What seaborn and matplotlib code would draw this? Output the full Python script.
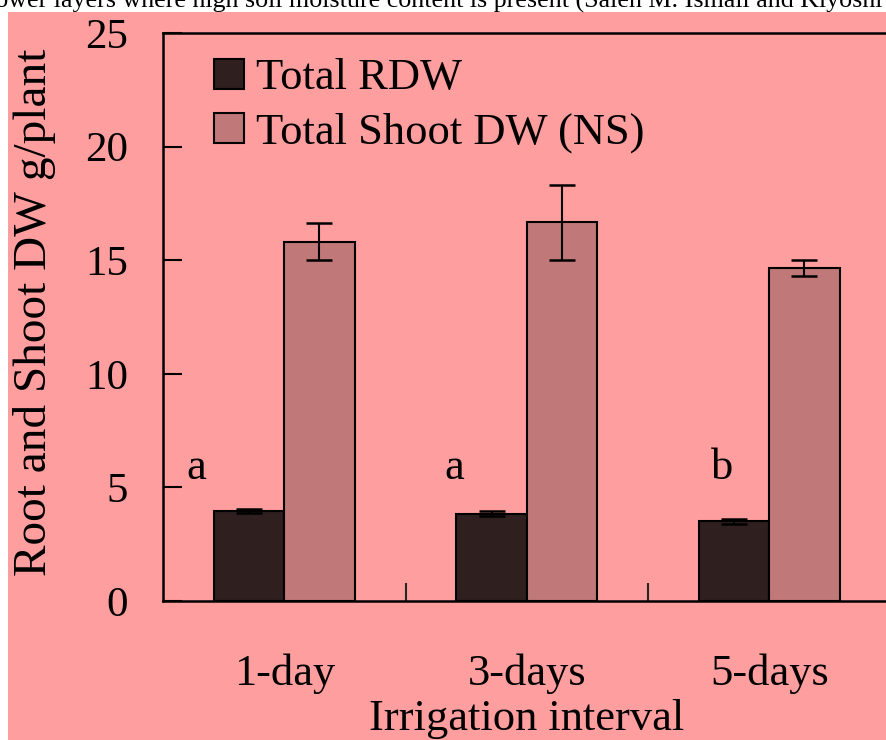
import matplotlib
matplotlib.use("Agg")
import matplotlib.pyplot as plt
from matplotlib.lines import Line2D
from matplotlib.patches import Rectangle
import seaborn as sns
import pandas as pd

# Data
intervals = ["1-day", "3-days", "5-days"]
series = ["Total RDW", "Total Shoot DW (NS)"]
root_dw = [3.96, 3.85, 3.51]
root_err = [0.08, 0.12, 0.10]
shoot_dw = [15.81, 16.67, 14.66]
shoot_err = [0.81, 1.66, 0.37]
root_letters = ["a", "a", "b"]

caption = ("lower layers where high soil moisture content is present "
           "(Saleh M. Ismail and Kiyoshi")

bg = "#FF9E9E"
dark = "#2F1F1F"
light = "#C07878"
serif = "Liberation Serif"

sns.set_theme(style="ticks")
plt.rcParams["font.family"] = [serif, "DejaVu Serif"]
plt.rcParams["text.color"] = "black"
plt.rcParams["axes.labelcolor"] = "black"

df = pd.DataFrame({
    "interval": intervals * 2,
    "series": [series[0]] * 3 + [series[1]] * 3,
    "value": root_dw + shoot_dw,
})

fig = plt.figure(figsize=(8.87, 7.40), dpi=100, facecolor="white")
fig.add_artist(Rectangle((8 / 887, 0), 1, (740 - 12) / 740,
                         transform=fig.transFigure, facecolor=bg,
                         edgecolor="none", zorder=-10))
fig.text(882 / 887, (740 - 8) / 740, caption, ha="right", va="baseline",
         fontsize=18.7, color="black", family=serif)

ax = fig.add_axes([163 / 887, (740 - 601) / 740, 727.5 / 887, 568 / 740])
ax.set_facecolor("none")

sns.barplot(data=df, x="interval", y="value", hue="series",
            order=intervals, hue_order=series,
            palette={series[0]: dark, series[1]: light},
            width=0.58, saturation=1, errorbar=None,
            edgecolor="black", linewidth=1.5, legend=False, ax=ax)

for cont, errs in zip(ax.containers, [root_err, shoot_err]):
    xs = [b.get_x() + b.get_width() / 2 for b in cont]
    ys = [b.get_height() for b in cont]
    ax.errorbar(xs, ys, yerr=errs, fmt="none", ecolor="black",
                elinewidth=1.5, capsize=9.7, capthick=1.8, zorder=5)

# significance letters for root dry weight
letter_x = [-0.363, 0.701, 1.806]
for lx, s in zip(letter_x, root_letters):
    ax.text(lx, 5.36, s, ha="center", va="baseline", fontsize=32,
            family=serif, color="black")

ax.set_xlim(-0.5, 2.5)
ax.set_ylim(0, 25)
ax.set_yticks([0, 5, 10, 15, 20, 25])
ax.set_xticks(range(len(intervals)))
ax.set_xticklabels(intervals)
ax.set_xticks([0.5, 1.5, 2.5], minor=True)

ax.tick_params(axis="y", direction="in", length=14, width=1.5,
               labelsize=31, pad=25, colors="black")
ax.tick_params(axis="x", which="major", length=0, labelsize=32, pad=38,
               colors="black")
ax.tick_params(axis="x", which="minor", direction="in", length=13, width=1.5)

for sp in ax.spines.values():
    sp.set_visible(True)
    sp.set_linewidth(1.8)
    sp.set_color("black")

ax.set_ylabel("Root and Shoot DW g/plant", fontsize=34, va="center")
ax.yaxis.set_label_coords((35 - 163) / 727.5, (601 - 312) / 568)
ax.set_xlabel("Irrigation interval", fontsize=32, va="baseline")
ax.xaxis.set_label_coords(0.5, -(730 - 601) / 568)

handles = [Line2D([], [], marker="s", linestyle="", markersize=21.6,
                  markerfacecolor=c, markeredgecolor="black",
                  markeredgewidth=1.5) for c in (dark, light)]
ax.legend(handles, series, loc="upper left",
          bbox_to_anchor=((213 - 163) / 727.5, (601 - 58) / 568),
          frameon=False, fontsize=32, handlelength=0.7, handletextpad=0.27,
          borderpad=0, borderaxespad=0, labelspacing=0.33)

fig.savefig("out.png", dpi=100, facecolor="white")
